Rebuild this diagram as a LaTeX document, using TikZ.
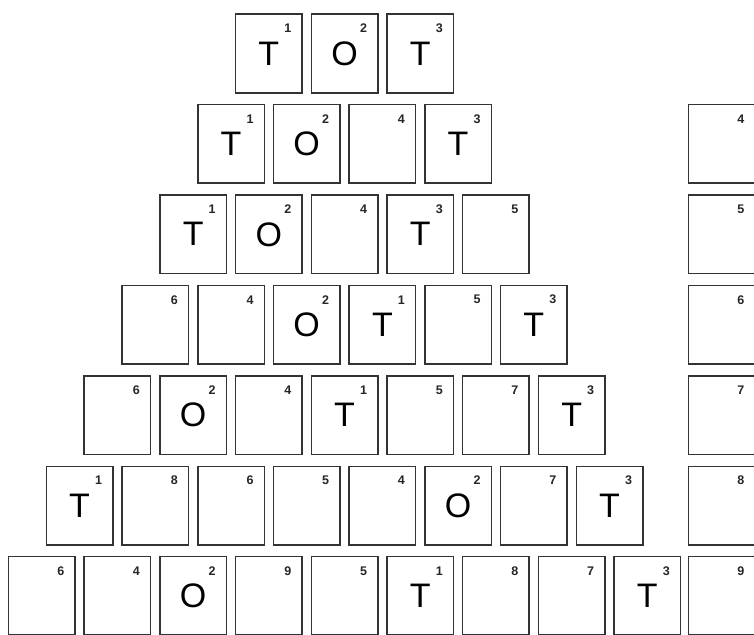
\documentclass[tikz,border=0pt]{standalone}
\usepackage{fontspec}
\setmainfont{Liberation Sans}
\begin{document}
\begin{tikzpicture}[x=1pt,y=-1pt,
  tile/.style={draw=black!80,line width=1.5pt,minimum width=66.5pt,minimum height=78.5pt,
    inner sep=0pt,anchor=north west,font=\fontsize{34}{34}\selectfont},
  idx/.style={inner sep=0pt,font=\bfseries\fontsize{12.5}{12.5}\selectfont,text=black!85}]
\useasboundingbox (0,0) rectangle (754,634);
\clip (0,0) rectangle (754,634);
\fill[white] (0,0) rectangle (754,634);
\foreach \row/\items in {
  1/{T/1,O/2,T/3},
  2/{T/1,O/2,/4,T/3},
  3/{T/1,O/2,/4,T/3,/5},
  4/{/6,/4,O/2,T/1,/5,T/3},
  5/{/6,O/2,/4,T/1,/5,/7,T/3},
  6/{T/1,/8,/6,/5,/4,O/2,/7,T/3},
  7/{/6,/4,O/2,/9,/5,T/1,/8,/7,T/3}}{
  \foreach \l/\n [count=\c] in \items {
    \pgfmathsetmacro\xx{7.75+37.85*(7-\row)+75.7*(\c-1)}
    \pgfmathsetmacro\yy{13.5+90.4*(\row-1)}
    \node[tile] (r\row c\c) at (\xx,\yy) {\l};
    \node[idx] (r\row c\c n) at ([xshift=-15pt,yshift=-15pt]r\row c\c.north east) {\n};
  }
}
\foreach \row/\n in {2/4,3/5,4/6,5/7,6/8,7/9}{
  \pgfmathsetmacro\yy{13.5+90.4*(\row-1)}
  \node[tile] (side\row) at (687.75,\yy) {};
  \node[idx] (side\row n) at ([xshift=-15pt,yshift=-15pt]side\row.north east) {\n};
}
\end{tikzpicture}
\end{document}
